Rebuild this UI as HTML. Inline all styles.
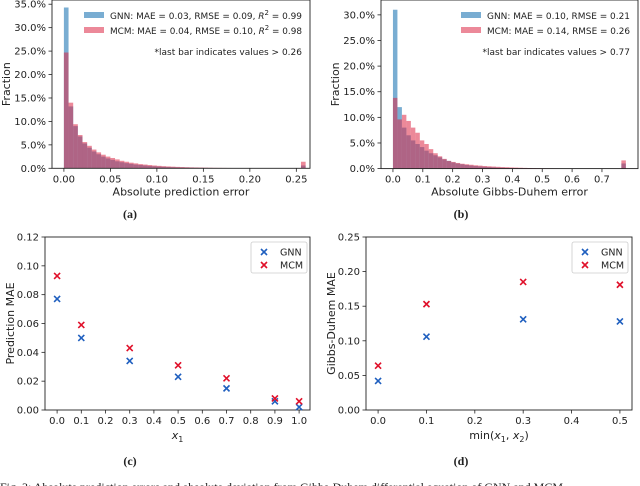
<!DOCTYPE html>
<html><head><meta charset="utf-8">
<style>
html,body{margin:0;padding:0;background:#fff;}
svg{display:block;}
text{font-family:"DejaVu Sans","Liberation Sans",sans-serif;fill:#222;}
.serif{font-family:"Liberation Serif","DejaVu Serif",serif;}
</style></head>
<body>
<svg id="fig" width="640" height="486" viewBox="0 0 640 486"></svg>
<script>
// ---- Panel (a) data: histogram of absolute prediction error (%), bin width 0.005
const aBinWidth = 0.005;
const aGNN = [34.3,13.2,9.0,6.8,5.3,4.4,3.6,3.0,2.5,2.1,1.8,1.5,1.3,1.1,0.95,0.8,0.7,0.6,0.5,0.43,0.37,0.32,0.27,0.23,0.2,0.17,0.15,0.13,0.11,0.1,0.08,0.07,0.06,0.05,0.045,0.04,0.035,0.03,0.03,0.02,0.02,0.02,0.01,0.01,0.01,0.01,0.01,0.01,0.01,0.01,0.01,0.6];
const aMCM = [24.7,14.0,9.4,7.1,5.6,4.8,4.0,3.4,2.9,2.5,2.2,1.9,1.6,1.4,1.2,1.05,0.9,0.8,0.7,0.6,0.52,0.45,0.4,0.35,0.3,0.27,0.23,0.2,0.18,0.16,0.14,0.12,0.1,0.09,0.08,0.07,0.06,0.05,0.05,0.04,0.03,0.03,0.03,0.02,0.02,0.02,0.02,0.01,0.01,0.01,0.01,1.4];
const aXTicks = [0.00,0.05,0.10,0.15,0.20,0.25];
const aXTickLabels = ["0.00","0.05","0.10","0.15","0.20","0.25"];
const aYTicks = [0,5,10,15,20,25,30,35];

// ---- Panel (b) data: histogram of Gibbs-Duhem error (%), bin width 0.015
const bBinWidth = 0.015;
const bGNN = [31.0,12.0,8.0,6.5,5.5,4.8,4.2,3.5,3.0,2.6,2.2,1.8,1.5,1.2,1.0,0.85,0.7,0.6,0.5,0.42,0.36,0.3,0.25,0.2,0.17,0.14,0.12,0.1,0.08,0.07,0.06,0.05,0.04,0.035,0.03,0.025,0.02,0.02,0.015,0.01,0.01,0.01,0.01,0.01,0.01,0.01,0.01,0.01,0.01,0.01,0.01,1.0];
const bMCM = [13.8,9.6,10.5,9.3,8.0,7.0,5.5,4.8,3.8,3.0,2.4,1.9,1.5,1.3,1.1,0.95,0.85,0.75,0.65,0.58,0.5,0.45,0.4,0.35,0.3,0.27,0.23,0.2,0.17,0.14,0.12,0.1,0.08,0.06,0.05,0.04,0.03,0.02,0.02,0.01,0.01,0.01,0.01,0.01,0.01,0.01,0.01,0.01,0.01,0.01,0.01,1.6];
const bXTicks = [0,0.1,0.2,0.3,0.4,0.5,0.6,0.7];
const bXTickLabels = ["0.0","0.1","0.2","0.3","0.4","0.5","0.6","0.7"];
const bYTicks = [0,5,10,15,20,25,30];

// ---- Panel (c) data
const cX = [0.0,0.1,0.3,0.5,0.7,0.9,1.0];
const cGNN = [0.077,0.050,0.034,0.023,0.015,0.006,0.002];
const cMCM = [0.093,0.059,0.043,0.031,0.022,0.008,0.006];
const cXTicks = [0,0.1,0.2,0.3,0.4,0.5,0.6,0.7,0.8,0.9,1.0];
const cYTicks = [0,0.02,0.04,0.06,0.08,0.10,0.12];

// ---- Panel (d) data
const dX = [0.0,0.1,0.3,0.5];
const dGNN = [0.042,0.106,0.131,0.128];
const dMCM = [0.064,0.153,0.185,0.181];
const dXTicks = [0,0.1,0.2,0.3,0.4,0.5];
const dYTicks = [0,0.05,0.10,0.15,0.20,0.25];

const NS = "http://www.w3.org/2000/svg";
const svg = document.getElementById('fig');
function el(tag, attrs, parent, txt){
  const e = document.createElementNS(NS, tag);
  for (const k in attrs) e.setAttribute(k, attrs[k]);
  if (txt !== undefined) e.textContent = txt;
  (parent||svg).appendChild(e);
  return e;
}
function lin(d0,d1,r0,r1){ return v => r0 + (v-d0)*(r1-r0)/(d1-d0); }

function frame(g, L, T, R, B){
  const f = el('rect',{x:L,y:T,width:R-L,height:B-T,fill:'none',stroke:'#222','stroke-width':0.9},g);
  
  
}
function xTicks(g, ticks, labels, sx, B){
  ticks.forEach((t,i)=>{
    const x = sx(t);
    el('line',{x1:x,y1:B,x2:x,y2:B+3.5,stroke:'#222','stroke-width':0.8},g);
    const tx = el('text',{x:x,y:B+14,'font-size':10,'text-anchor':'middle'},g,labels[i]);
    
    
  });
}
function yTicks(g, ticks, labels, sy, L){
  ticks.forEach((t,i)=>{
    const y = sy(t);
    el('line',{x1:L-3.5,y1:y,x2:L,y2:y,stroke:'#222','stroke-width':0.8},g);
    const tx = el('text',{x:L-6,y:y+3.5,'font-size':10,'text-anchor':'end'},g,labels[i]);
    
    
  });
}
function yLabel(g, x, y, txt){
  const t = el('text',{x:x,y:y,'font-size':11,'text-anchor':'middle',transform:`rotate(-90 ${x} ${y})`},g,txt);
  
  
}
function caption(x,y,txt){
  const t = el('text',{x:x,y:y,'font-size':12,class:'serif','text-anchor':'middle','font-weight':'bold'},svg,txt);
  
  
}
const BLUE_H = 'rgba(31,119,180,0.6)', RED_H = 'rgba(220,40,70,0.55)';

function hist(name, L,T,R,B, xmin,xmax, ymax, bw, gnn, mcm, xt, xtl, yt, xlabel, legend, note, legX, legTxtX, legW){
  const g = el('g',{});
  
  
  const sx = lin(xmin,xmax,L,R), sy = lin(0,ymax,B,T);
  [[gnn,BLUE_H,'gnn'],[mcm,RED_H,'mcm']].forEach(([arr,col,s])=>{
    arr.forEach((v,i)=>{
      const x0 = sx(i*bw), x1 = sx((i+1)*bw);
      const r = el('rect',{x:x0,y:sy(v),width:x1-x0,height:B-sy(v),fill:col},g);
      
      
    });
  });
  frame(g,L,T,R,B);
  xTicks(g, xt, xtl, sx, B);
  yTicks(g, yt, yt.map(v=>v.toFixed(1)+'%'), sy, L);
  yLabel(g, L-42, (T+B)/2, 'Fraction');
  const xl = el('text',{x:(L+R)/2,y:B+27,'font-size':11,'text-anchor':'middle'},g,xlabel);
  
  
  legend.forEach((lt,i)=>{
    const y = 12 + i*15;
    const p = el('rect',{x:legX,y:y,width:legTxtX-legX-6,height:6,fill:i?RED_H:BLUE_H},g);
    
    
    const t = el('text',{x:legTxtX,y:y+7,'font-size':9,textLength:legW,lengthAdjust:'spacingAndGlyphs'},g);
    t.innerHTML = lt;
    
    
  });
  const n = el('text',{x:R-8,y:55,'font-size':9,'text-anchor':'end'},g,note);
  
  
}

function scatter(name, L,T,R,B, xmin,xmax,ymax, xs, gnn, mcm, xt, xtl, yt, ytl, ylabel, xlabelHTML, legL){
  const g = el('g',{});
  
  
  const sx = lin(xmin,xmax,L,R), sy = lin(0,ymax,B,T);
  frame(g,L,T,R,B);
  xTicks(g, xt, xtl, sx, B);
  yTicks(g, yt, ytl, sy, L);
  yLabel(g, L-31, (T+B)/2, ylabel);
  const xl = el('text',{x:(L+R)/2,y:B+29,'font-size':11,'text-anchor':'middle'},g);
  xl.innerHTML = xlabelHTML;
  
  
  function mark(x,y,col,nm){
    const m = el('path',{d:`M${x-3} ${y-3}L${x+3} ${y+3}M${x-3} ${y+3}L${x+3} ${y-3}`,stroke:col,'stroke-width':1.6,fill:'none'},g);
    
    
  }
  xs.forEach((x,i)=>{ mark(sx(x),sy(gnn[i]),'#1f5fbf','gnn-point'); mark(sx(x),sy(mcm[i]),'#e0102a','mcm-point'); });
  const lb = el('rect',{x:legL,y:T+5,width:56,height:31,fill:'#fff',stroke:'#ccc','stroke-width':0.8,rx:2},g);
  
  
  [['GNN','#1f5fbf'],['MCM','#e0102a']].forEach(([t,c],i)=>{
    const y = T+15+i*13;
    mark(legL+13,y,c, 'legend-marker-'+t.toLowerCase());
    const tx = el('text',{x:legL+29,y:y+3.5,'font-size':9.5},g,t);
    
    
  });
}

hist('histogram-prediction-error', 52,0,310,168.3, -0.0128,0.2647, 35.9, aBinWidth, aGNN, aMCM, aXTicks, aXTickLabels, aYTicks,
  'Absolute prediction error',
  ['GNN: MAE = 0.03, RMSE = 0.09, <tspan font-style="italic">R</tspan><tspan dy="-4" font-size="7">2</tspan><tspan dy="4"> = 0.99</tspan>',
   'MCM: MAE = 0.04, RMSE = 0.10, <tspan font-style="italic">R</tspan><tspan dy="-4" font-size="7">2</tspan><tspan dy="4"> = 0.98</tspan>'],
  '*last bar indicates values > 0.26', 84, 110, 192);
hist('histogram-gibbs-duhem-error', 381,0,638,168.6, -0.04,0.8207, 32.9, bBinWidth, bGNN, bMCM, bXTicks, bXTickLabels, bYTicks,
  'Absolute Gibbs-Duhem error',
  ['GNN: MAE = 0.10, RMSE = 0.21','MCM: MAE = 0.14, RMSE = 0.26'],
  '*last bar indicates values > 0.77', 461, 487, 143);

scatter('scatter-prediction-mae', 45,237,310,410, -0.05,1.045,0.12, cX, cGNN, cMCM, cXTicks, cXTicks.map(v=>v.toFixed(1)), cYTicks, cYTicks.map(v=>v.toFixed(2)),
  'Prediction MAE', '<tspan font-style="italic">x</tspan><tspan dy="3" font-size="8">1</tspan>', 251);
scatter('scatter-gibbs-duhem-mae', 366,237,632,410, -0.025,0.525,0.25, dX, dGNN, dMCM, dXTicks, dXTicks.map(v=>v.toFixed(1)), dYTicks, dYTicks.map(v=>v.toFixed(2)),
  'Gibbs-Duhem MAE', 'min(<tspan font-style="italic">x</tspan><tspan dy="3" font-size="8">1</tspan><tspan dy="-3">, </tspan><tspan font-style="italic">x</tspan><tspan dy="3" font-size="8">2</tspan><tspan dy="-3">)</tspan>', 572);

caption(130,218,'(a)');
caption(461,218,'(b)');
caption(130,465,'(c)');
caption(461,465,'(d)');
const cap = el('text',{x:0,y:491,'font-size':12,class:'serif'},svg,'Fig. 3: Absolute prediction errors and absolute deviation from Gibbs-Duhem differential equation of GNN and MCM.');


</script>
</body></html>
